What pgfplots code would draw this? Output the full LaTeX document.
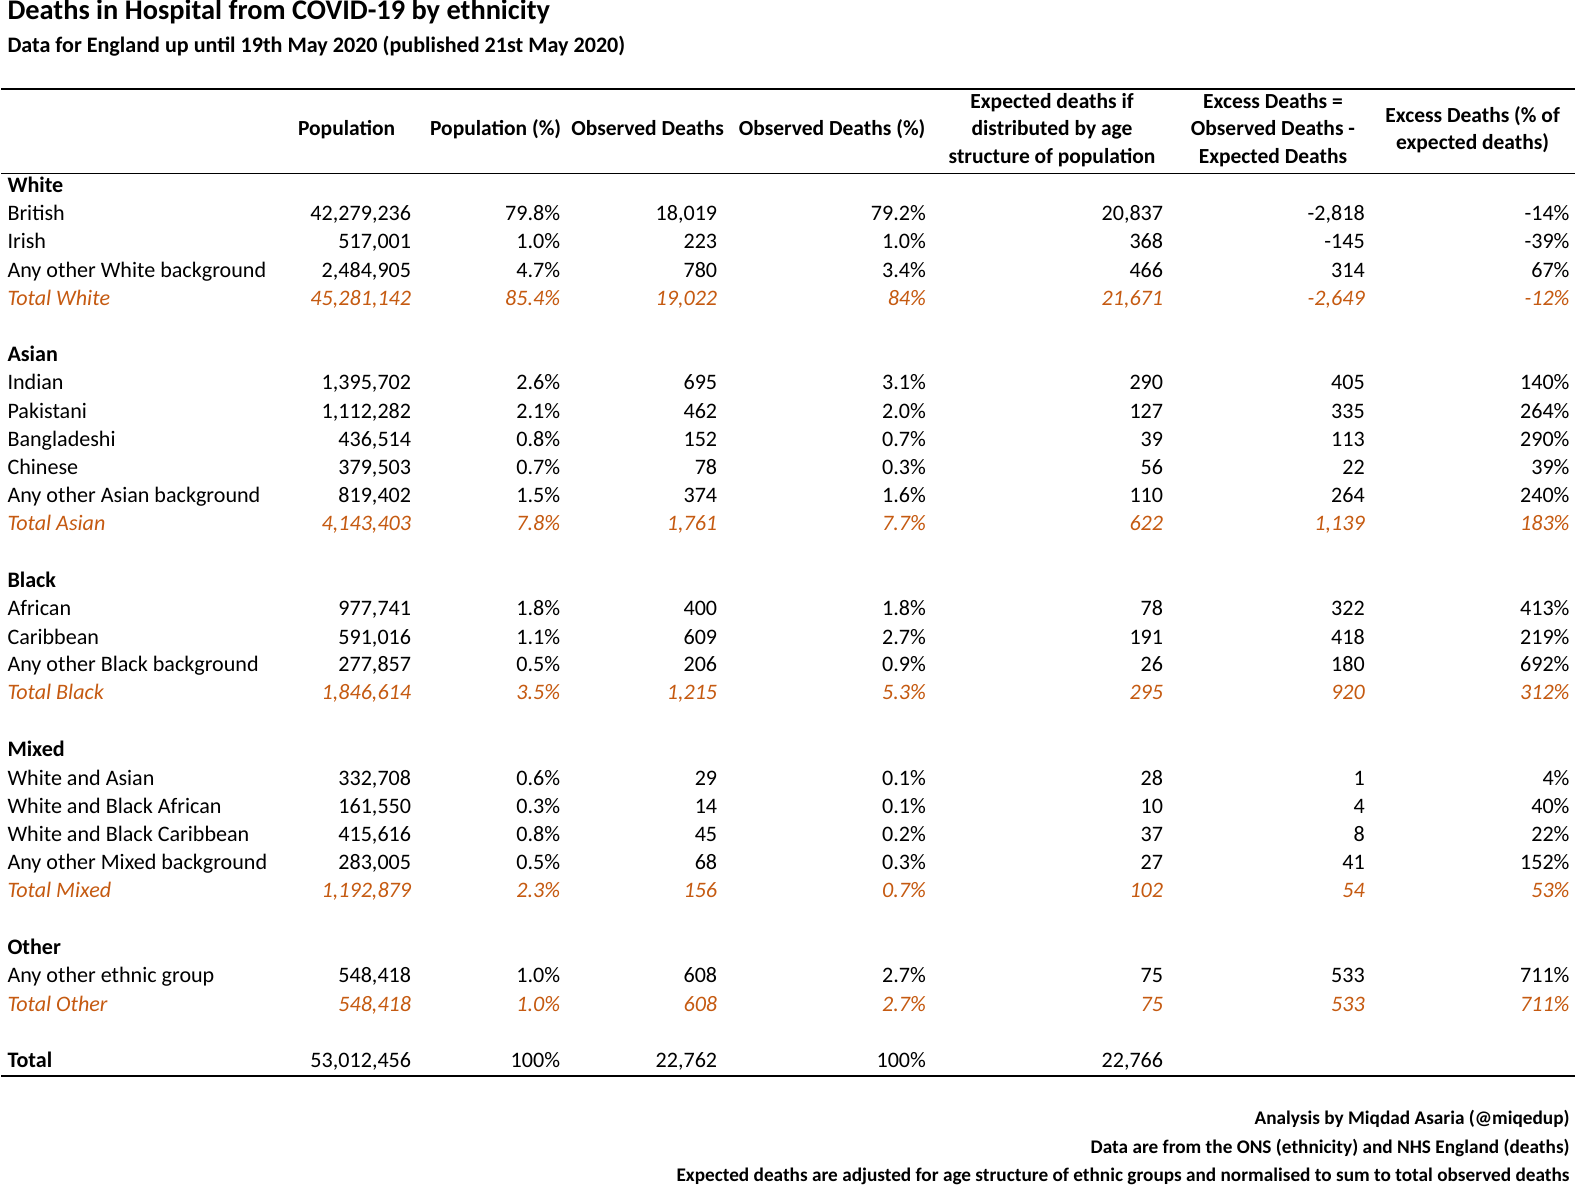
\documentclass[border=0pt]{standalone}
\usepackage{pgfplots}
\usepackage{pgfplotstable}
\pgfplotsset{compat=1.18}
\usepackage{fontspec}
\setmainfont{Carlito}
\definecolor{tot}{HTML}{C55A11}
\pgfplotstableread[col sep=semicolon]{
y;name;pop;popp;obs;obsp;exp;exc;excp
213;British;42,279,236;79.8;18,019;79.2;20,837;-2,818;-14
241;Irish;517,001;1.0;223;1.0;368;-145;-39
269;Any other White background;2,484,905;4.7;780;3.4;466;314;67
380;Indian;1,395,702;2.6;695;3.1;290;405;140
408;Pakistani;1,112,282;2.1;462;2.0;127;335;264
436;Bangladeshi;436,514;0.8;152;0.7;39;113;290
464;Chinese;379,503;0.7;78;0.3;56;22;39
491;Any other Asian background;819,402;1.5;374;1.6;110;264;240
603;African;977,741;1.8;400;1.8;78;322;413
631;Caribbean;591,016;1.1;609;2.7;191;418;219
658;Any other Black background;277,857;0.5;206;0.9;26;180;692
770;White and Asian;332,708;0.6;29;0.1;28;1;4
798;White and Black African;161,550;0.3;14;0.1;10;4;40
826;White and Black Caribbean;415,616;0.8;45;0.2;37;8;22
853;Any other Mixed background;283,005;0.5;68;0.3;27;41;152
965;Any other ethnic group;548,418;1.0;608;2.7;75;533;711
}\rows
\pgfplotstableread[col sep=semicolon]{
y;name;pop;popp;obs;obsp;exp;exc;excp
297;Total White;45,281,142;85.4;19,022;84;21,671;-2,649;-12
519;Total Asian;4,143,403;7.8;1,761;7.7;622;1,139;183
686;Total Black;1,846,614;3.5;1,215;5.3;295;920;312
881;Total Mixed;1,192,879;2.3;156;0.7;102;54;53
993;Total Other;548,418;1.0;608;2.7;75;533;711
}\totals
\pgfplotstableread[col sep=semicolon]{
y;name
185;White
352;Asian
575;Black
742;Mixed
937;Other
1049;Total
}\groups
\newcommand\bodyfont{\fontsize{10.9}{13}\selectfont}
\newcommand\col[5]{\addplot[draw=none,mark=none,nodes near coords={#5},point meta=explicit symbolic,
  every node near coord/.append style={anchor=mid east,inner sep=0pt,font=\bodyfont,#4}]
  table[x expr=#2,y=y,meta=#3]{#1};}
\newcommand\allcols[2]{%
 \col{#1}{11}{name}{anchor=mid west,#2}{\pgfplotspointmeta}
 \col{#1}{410}{pop}{#2}{\pgfplotspointmeta}
 \col{#1}{557}{popp}{#2}{\pgfplotspointmeta\%}
 \col{#1}{712}{obs}{#2}{\pgfplotspointmeta}
 \col{#1}{918}{obsp}{#2}{\pgfplotspointmeta\%}
 \col{#1}{1152}{exp}{#2}{\pgfplotspointmeta}
 \col{#1}{1351}{exc}{#2}{\pgfplotspointmeta}
 \col{#1}{1553}{excp}{#2}{\pgfplotspointmeta\%}}
\begin{document}
\begin{tikzpicture}
\begin{axis}[scale only axis,width=788pt,height=593.5pt,xmin=0,xmax=1576,ymin=0,ymax=1187,
  y dir=reverse,hide axis,clip=false]
\allcols{\rows}{}
\allcols{\totals}{tot,font=\bodyfont\itshape}
\col{\groups}{11}{name}{anchor=mid west,font=\bodyfont\bfseries}{\pgfplotspointmeta}
% total row
\addplot[draw=none,mark=none,nodes near coords={\pgfplotspointmeta},point meta=explicit symbolic,
  every node near coord/.append style={anchor=mid east,inner sep=0pt,font=\bodyfont}]
  coordinates {(410,1049)[53,012,456] (557,1049)[100\%] (712,1049)[22,762] (918,1049)[100\%] (1152,1049)[22,766]};
% headers
\addplot[draw=none,mark=none,nodes near coords={\pgfplotspointmeta},point meta=explicit symbolic,
  every node near coord/.append style={anchor=mid,inner sep=0pt,font=\fontsize{10.6}{12}\selectfont\bfseries}]
  coordinates {(346,129)[Population] (493,129)[Population (\%)] (643,129)[Observed Deaths]
  (825,129)[Observed Deaths (\%)] (1042,102)[Expected deaths if] (1042,129)[distributed by age]
  (1042,157)[structure of population] (1260,102)[Excess Deaths =] (1260,129)[Observed Deaths -]
  (1260,157)[Expected Deaths] (1457,116)[Excess Deaths (\% of] (1457,143)[expected deaths)]};
% title
\addplot[draw=none,mark=none,nodes near coords={\pgfplotspointmeta},point meta=explicit symbolic,
  every node near coord/.append style={anchor=mid west,inner sep=0pt,font=\fontsize{14}{16}\selectfont\bfseries}]
  coordinates {(11,15)[Deaths in Hospital from COVID-19 by ethnicity]};
\addplot[draw=none,mark=none,nodes near coords={\pgfplotspointmeta},point meta=explicit symbolic,
  every node near coord/.append style={anchor=mid west,inner sep=0pt,font=\fontsize{10.9}{13}\selectfont\bfseries}]
  coordinates {(11,47)[Data for England up until 19th May 2020 (published 21st May 2020)]};
% footer
\addplot[draw=none,mark=none,nodes near coords={\pgfplotspointmeta},point meta=explicit symbolic,
  every node near coord/.append style={anchor=mid east,inner sep=0pt,font=\fontsize{9.5}{11}\selectfont\bfseries}]
  coordinates {(1553,1105)[Analysis by Miqdad Asaria (@miqedup)] (1553,1133)[Data are from the ONS (ethnicity) and NHS England (deaths)]
  (1553,1161)[Expected deaths are adjusted for age structure of ethnic groups and normalised to sum to total observed deaths]};
% rules
\addplot[black,line width=1pt] coordinates {(5,88)(1558,88)};
\addplot[black,line width=1pt] coordinates {(5,1062)(1558,1062)};
\addplot[black,line width=0.4pt] coordinates {(5,171)(1558,171)};
\end{axis}
\end{tikzpicture}
\end{document}
